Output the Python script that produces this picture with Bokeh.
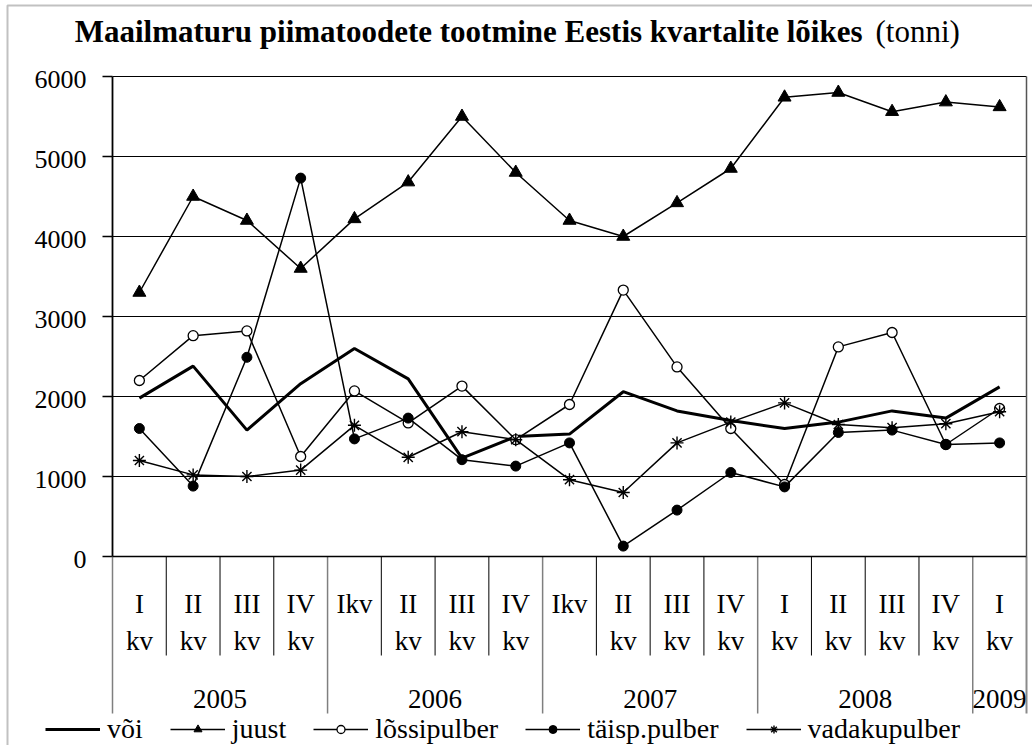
from bokeh.plotting import figure
from bokeh.models import (Range1d, Legend, LegendItem, Label, BoxAnnotation)
from bokeh.core.properties import value
from bokeh.embed import file_html
from bokeh.resources import INLINE

# ---------------- data ----------------
quarter_top = ["I", "II", "III", "IV", "Ikv", "II", "III", "IV", "Ikv",
               "II", "III", "IV", "I", "II", "III", "IV", "I"]
quarter_bottom = ["kv", "kv", "kv", "kv", "", "kv", "kv", "kv", "",
                  "kv", "kv", "kv", "kv", "kv", "kv", "kv", "kv"]
years = ["2005", "2006", "2007", "2008", "2009"]
year_spans = [4, 4, 4, 4, 1]

voi = [1980, 2380, 1580, 2160, 2600, 2220, 1230, 1500, 1530, 2060, 1820,
       1700, 1600, 1680, 1820, 1730, 2120]
juust = [3300, 4500, 4200, 3600, 4220, 4680, 5500, 4800, 4200, 4000, 4420,
         4850, 5740, 5800, 5560, 5680, 5620]
lossipulber = [2200, 2760, 2820, 1250, 2070, 1670, 2130, 1460, 1900, 3330,
               2370, 1600, 900, 2620, 2800, 1400, 1850]
taisp_pulber = [1600, 880, 2490, 4730, 1470, 1730, 1210, 1130, 1420, 130,
                580, 1050, 870, 1550, 1580, 1400, 1420]
vadakupulber = [1200, 1020, 1000, 1080, 1640, 1240, 1560, 1460, 960, 800,
                1420, 1680, 1920, 1650, 1610, 1660, 1810]
y_ticks = [0, 1000, 2000, 3000, 4000, 5000, 6000]
y_tick_labels = ["0", "1000", "2000", "3000", "4000", "5000", "6000"]

title_bold = "Maailmaturu piimatoodete tootmine Eestis kvartalite lõikes"
title_unit = "(tonni)"
names = ["või", "juust", "lõssipulber", "täisp.pulber", "vadakupulber"]

# ---------------- layout helpers (page px -> data) ----------------
W, H = 1032, 745
N = len(quarter_top)
X0_PX, XW_PX = 112, 914
DX = XW_PX / N
Y0_PX, DY = 556, 0.08


def xd(px):
    return (px - X0_PX) / DX


def yd(py):
    return (Y0_PX - py) / DY


FONT = "Liberation Serif"

p = figure(width=W, height=H, output_backend="svg", toolbar_location=None,
           x_range=Range1d(xd(0), xd(W)), y_range=Range1d(yd(H), yd(0)),
           x_axis_location=None, y_axis_location=None,
           min_border_left=0, min_border_right=0, min_border_top=0,
           min_border_bottom=0, title=None)
p.outline_line_color = None
p.background_fill_color = "white"
p.border_fill_color = "white"
p.grid.visible = False

xs = [i + 0.5 for i in range(N)]
ymax = y_ticks[-1]

# horizontal grid lines and tick marks
grid_y = y_ticks[1:]
p.segment(x0=[0] * len(grid_y), y0=grid_y, x1=[N] * len(grid_y), y1=grid_y,
          line_color="black", line_width=1)
p.segment(x0=[xd(102)] * len(y_ticks), y0=y_ticks, x1=[0] * len(y_ticks), y1=y_ticks,
          line_color="black", line_width=1.3)
p.text(x=[xd(86)] * len(y_ticks), y=y_ticks, text=y_tick_labels, text_align="right",
       text_baseline="middle", y_offset=3, text_font=value(FONT),
       text_font_size="26px", text_color="black")

# table lines below the axis
boundaries = [0]
for s in year_spans:
    boundaries.append(boundaries[-1] + s)
inner = [i for i in range(1, N) if i not in boundaries]
p.segment(x0=inner, y0=[0] * len(inner), x1=inner, y1=[yd(655)] * len(inner),
          line_color="black", line_width=1)
yb = boundaries[:-1]
p.segment(x0=yb, y0=[0] * len(yb), x1=yb, y1=[yd(713)] * len(yb),
          line_color="#7f7f7f", line_width=1.5)
p.segment(x0=[N], y0=[0], x1=[N], y1=[yd(713)], line_color="#8a8a8a", line_width=2)
# axis lines and right border of plot area
p.segment(x0=[0], y0=[0], x1=[0], y1=[ymax], line_color="black", line_width=1.8)
p.segment(x0=[0], y0=[0], x1=[N], y1=[0], line_color="black", line_width=1.5)
p.segment(x0=[N], y0=[0], x1=[N], y1=[ymax], line_color="#555555", line_width=1.5)

# category labels
p.text(x=xs, y=[yd(603)] * N, text=quarter_top, text_align="center",
       text_baseline="middle", text_font=value(FONT), text_font_size="27px",
       text_color="black")
p.text(x=xs, y=[yd(640)] * N, text=quarter_bottom, text_align="center",
       text_baseline="middle", text_font=value(FONT), text_font_size="27px",
       text_color="black")
ycent = [boundaries[i] + year_spans[i] / 2 for i in range(len(years))]
p.text(x=ycent, y=[yd(698)] * len(years), text=years, text_align="center",
       text_baseline="middle", text_font=value(FONT), text_font_size="27px",
       text_color="black")

# series
r_voi = p.line(xs, voi, line_color="black", line_width=3)
r_ju_l = p.line(xs, juust, line_color="black", line_width=1.5)
r_ju_m = p.scatter(xs, juust, marker="triangle", size=13, fill_color="black",
                   line_color="black")
r_lo_l = p.line(xs, lossipulber, line_color="black", line_width=1.5)
r_lo_m = p.scatter(xs, lossipulber, marker="circle", size=10, fill_color="white",
                   line_color="black", line_width=1.3)
r_ta_l = p.line(xs, taisp_pulber, line_color="black", line_width=1.5)
r_ta_m = p.scatter(xs, taisp_pulber, marker="circle", size=10, fill_color="black",
                   line_color="black")
r_va_l = p.line(xs, vadakupulber, line_color="black", line_width=1.5)
r_va_m = p.scatter(xs, vadakupulber, marker="asterisk", size=13, line_color="black",
                   line_width=1.4)

legend = Legend(items=[
    LegendItem(label=names[0], renderers=[r_voi]),
    LegendItem(label=names[1], renderers=[r_ju_l, r_ju_m]),
    LegendItem(label=names[2], renderers=[r_lo_l, r_lo_m]),
    LegendItem(label=names[3], renderers=[r_ta_l, r_ta_m]),
    LegendItem(label=names[4], renderers=[r_va_l, r_va_m]),
], orientation="horizontal", location=(45, 0), glyph_width=55, glyph_height=20,
    label_standoff=7, spacing=27, padding=0, margin=0, border_line_color=None,
    background_fill_alpha=0, label_text_font=FONT, label_text_font_size="28px",
    label_text_color="black")
p.add_layout(legend)

# title
p.add_layout(Label(x=xd(862), y=yd(31), text=title_bold, text_align="right",
                   text_baseline="alphabetic", text_font=FONT,
                   text_font_style="bold", text_font_size="31px", text_color="black"))
p.add_layout(Label(x=xd(875), y=yd(31), text=title_unit, text_align="left",
                   text_baseline="alphabetic", text_font=FONT,
                   text_font_size="31px", text_color="black"))

# outer frame
p.add_layout(BoxAnnotation(left=xd(7), right=xd(1100), top=yd(5), bottom=yd(900),
                           fill_alpha=0, line_color="#333333", line_width=2))

open("out.html", "w").write(file_html(p, INLINE))
